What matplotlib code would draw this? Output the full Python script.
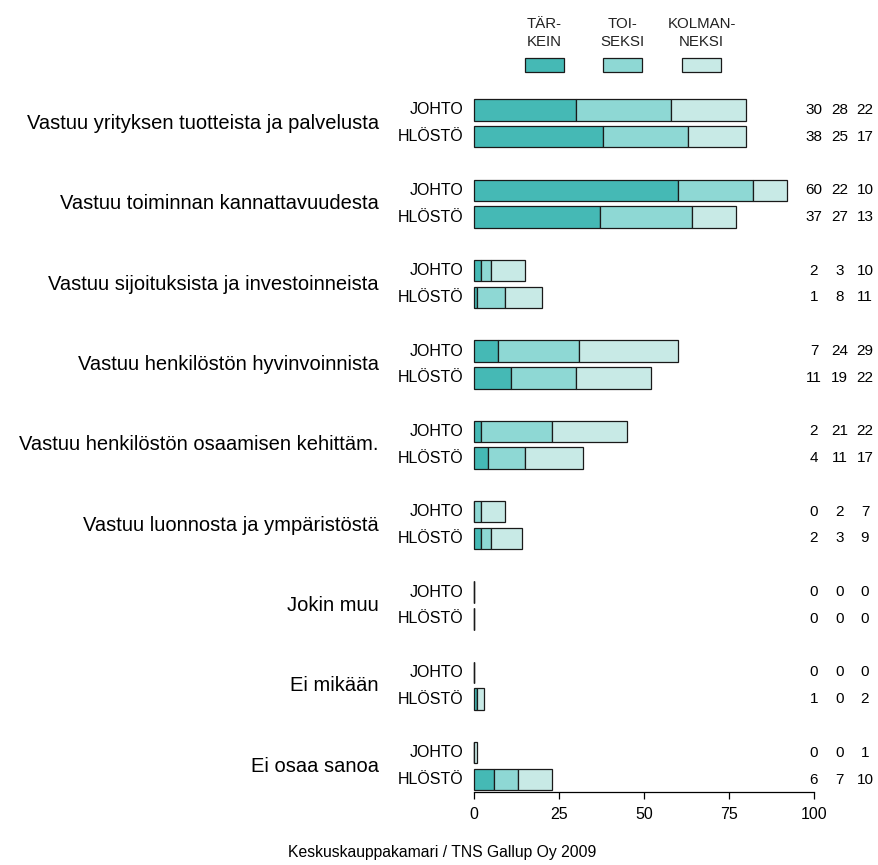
import numpy as np
import matplotlib
matplotlib.use("Agg")
import matplotlib.pyplot as plt
from matplotlib.patches import Rectangle

plt.rcParams['font.family'] = ['Liberation Sans', 'DejaVu Sans']

categories = [
    "Vastuu yrityksen tuotteista ja palvelusta",
    "Vastuu toiminnan kannattavuudesta",
    "Vastuu sijoituksista ja investoinneista",
    "Vastuu henkilöstön hyvinvoinnista",
    "Vastuu henkilöstön osaamisen kehittäm.",
    "Vastuu luonnosta ja ympäristöstä",
    "Jokin muu",
    "Ei mikään",
    "Ei osaa sanoa",
]
groups = ["JOHTO", "HLÖSTÖ"]

# values per category: [JOHTO, HLÖSTÖ]
tarkein = [[30, 38], [60, 37], [2, 1], [7, 11], [2, 4], [0, 2], [0, 0], [0, 1], [0, 6]]
toiseksi = [[28, 25], [22, 27], [3, 8], [24, 19], [21, 11], [2, 3], [0, 0], [0, 0], [0, 7]]
kolmanneksi = [[22, 17], [10, 13], [10, 11], [29, 22], [22, 17], [7, 9], [0, 0], [0, 2], [1, 10]]

legend_labels = ["TÄR-\nKEIN", "TOI-\nSEKSI", "KOLMAN-\nNEKSI"]
colors = ["#45b9b5", "#8ed8d4", "#c8eae6"]
xticks = [0, 25, 50, 75, 100]
footer = "Keskuskauppakamari / TNS Gallup Oy 2009"

W, H = 879, 865
fig = plt.figure(figsize=(W / 100, H / 100), dpi=100)

# axes: x 0..100 -> px 474..814, y top 96.6 px, bottom 792 px
ax = fig.add_axes([474 / W, (H - 792) / H, 340 / W, (792 - 96.6) / H])

t = np.array(tarkein)
s = np.array(toiseksi)
k = np.array(kolmanneksi)

ypos = []
for i in range(len(categories)):
    for j in range(2):
        ypos.append(3 * i + j)
ypos = np.array(ypos)

v1 = t.flatten()
v2 = s.flatten()
v3 = k.flatten()

bh = 0.8
kw = dict(height=bh, edgecolor="#1a1a1a", linewidth=0.9, clip_on=False)
ax.barh(ypos, v1, left=0, color=colors[0], **kw)
ax.barh(ypos, v2, left=v1, color=colors[1], **kw)
ax.barh(ypos, v3, left=v1 + v2, color=colors[2], **kw)

ax.set_xlim(0, 100)
ax.set_ylim(25 + 12.5 / 26.8, -0.5)

for sp in ["top", "right", "left"]:
    ax.spines[sp].set_visible(False)
ax.spines["bottom"].set_bounds(0, 100)
ax.spines["bottom"].set_linewidth(0.9)
ax.set_xticks(xticks)
ax.set_xticklabels([str(x) for x in xticks], fontsize=11.5)
ax.tick_params(axis="x", length=5, width=0.9, pad=6)
ax.set_yticks([])

# group labels and numbers
col_x = [100.0, 107.6, 115.0]
for idx, y in enumerate(ypos):
    ax.text(-3.0, y, groups[idx % 2], ha="right", va="center", fontsize=11.5, clip_on=False)
    for cx, val in zip(col_x, (v1[idx], v2[idx], v3[idx])):
        ax.text(cx, y, str(val), ha="center", va="center", fontsize=11, clip_on=False)

# category labels
for i, cat in enumerate(categories):
    ax.text(-28.0, 3 * i + 0.5, cat, ha="right", va="center", fontsize=14.5, clip_on=False)

# legend
leg_x = [525, 603, 682]
for lx, lab, c in zip(leg_x, legend_labels, colors):
    fig.patches.append(Rectangle((lx / W, (H - 72) / H), 39 / W, 14 / H,
                                 transform=fig.transFigure, facecolor=c,
                                 edgecolor="#1a1a1a", linewidth=0.9))
    fig.text((lx + 19.5) / W, (H - 33) / H, lab, ha="center", va="center",
             fontsize=10.8, linespacing=1.35, color="#222222")

fig.text(442 / W, (H - 852) / H, footer, ha="center", va="center", fontsize=11.3)

fig.savefig("out.png", dpi=100)
